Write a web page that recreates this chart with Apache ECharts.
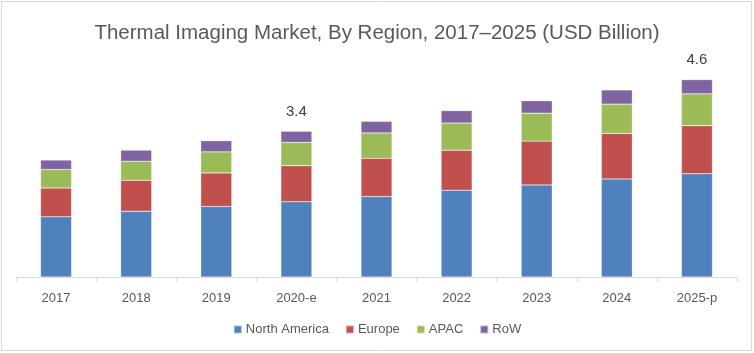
<!DOCTYPE html>
<html>
<head>
<meta charset="utf-8">
<script src="https://cdn.jsdelivr.net/npm/echarts@6/dist/echarts.min.js"></script>
<style>
html,body{margin:0;padding:0;background:#fff;}
#chart{width:754px;height:353px;}
</style>
</head>
<body>
<div id="chart"></div>
<script>
var categories = ['2017','2018','2019','2020-e','2021','2022','2023','2024','2025-p'];
var northAmerica = [1.40,1.53,1.64,1.75,1.87,2.02,2.14,2.28,2.40];
var europe = [0.67,0.72,0.78,0.84,0.89,0.93,1.02,1.06,1.12];
var apac = [0.43,0.44,0.49,0.54,0.59,0.63,0.65,0.68,0.74];
var row = [0.22,0.26,0.26,0.26,0.27,0.29,0.29,0.33,0.33];
var totalLabels = ['','','','3.4','','','','','4.6'];

var chart = echarts.init(document.getElementById('chart'), null, {renderer:'canvas'});
var fontFam = '"Liberation Sans", Arial, sans-serif';
function bar(name, data, color, extra){
  var s = {
    name: name, type: 'bar', stack: 'total', data: data, barWidth: 31,
    itemStyle: {color: color, borderColor: 'rgba(255,255,255,0.5)', borderWidth: 0.5},
    emphasis: {disabled: true}
  };
  if (extra) Object.assign(s, extra);
  return s;
}
chart.setOption({
  animation: false,
  backgroundColor: '#fff',
  title: {
    text: 'Thermal Imaging Market, By Region, 2017\u20132025 (USD Billion)',
    left: 'center', top: 18,
    textStyle: {fontFamily: fontFam, fontSize: 20.5, fontWeight: 'normal', color: '#595959'}
  },
  graphic: [{
    type: 'rect', shape: {x: 1.5, y: 1.5, width: 750, height: 349},
    style: {fill: 'none', stroke: '#D9D9D9', lineWidth: 1}, silent: true, z: 100
  }],
  legend: {
    bottom: 12, left: 'center',
    itemWidth: 8, itemHeight: 8, itemGap: 16, icon: 'rect',
    textStyle: {fontFamily: fontFam, fontSize: 13, color: '#595959', padding: [0,0,0,-1]},
    data: ['North America','Europe','APAC','RoW']
  },
  grid: {left: 16, right: 17, top: 62, bottom: 76, containLabel: false},
  xAxis: {
    type: 'category', data: categories, boundaryGap: true,
    axisLine: {lineStyle: {color: '#D9D9D9', width: 1}},
    axisTick: {show: true, length: 5, lineStyle: {color: '#D9D9D9'}},
    axisLabel: {fontFamily: fontFam, fontSize: 13, color: '#595959', margin: 15}
  },
  yAxis: {
    type: 'value', min: 0, max: 5, show: false, splitLine: {show: false}
  },
  series: [
    bar('North America', northAmerica, '#4F81BD'),
    bar('Europe', europe, '#C0504D'),
    bar('APAC', apac, '#9BBB59'),
    bar('RoW', row, '#8064A2', {
      label: {
        show: true, position: 'top', distance: 12,
        fontFamily: fontFam, fontSize: 15, color: '#404040',
        formatter: function(p){ return totalLabels[p.dataIndex]; }
      }
    })
  ]
});
</script>
</body>
</html>
